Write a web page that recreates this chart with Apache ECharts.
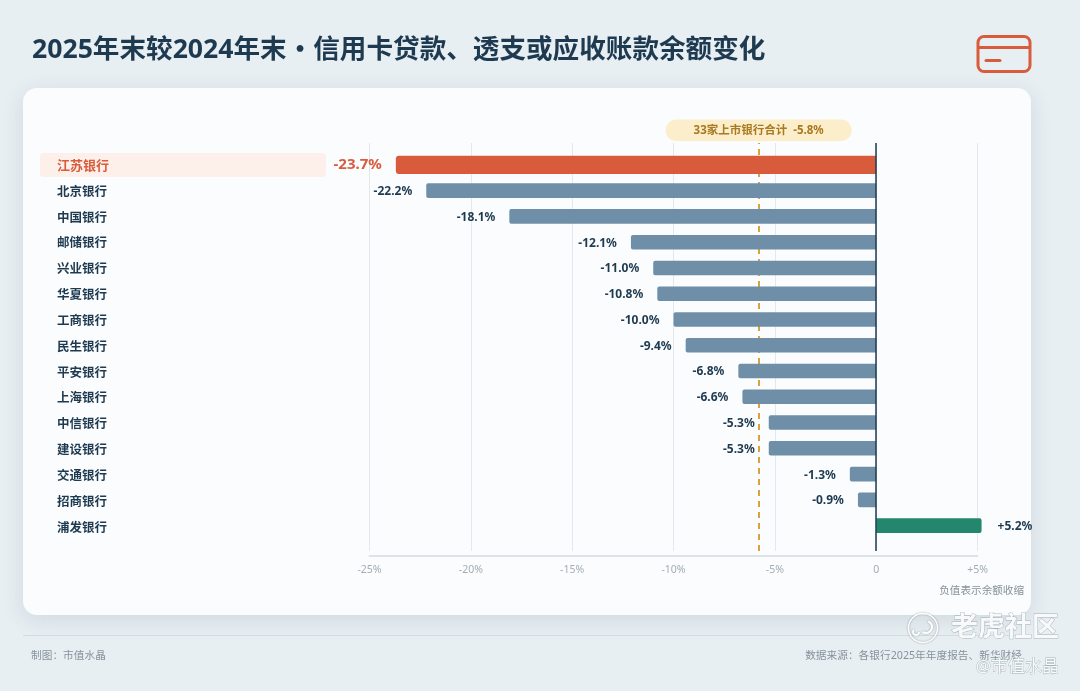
<!DOCTYPE html>
<html><head><meta charset="utf-8">
<style>html,body{margin:0;padding:0;background:#e8eff3}#c{width:1080px;height:691px}</style>
<script src="https://cdn.jsdelivr.net/npm/echarts@6/dist/echarts.min.js"></script>
</head><body><div id="c"></div>
<script>
const FONT='"Noto Sans","Noto Sans CJK SC",sans-serif';
const banks=['江苏银行','北京银行','中国银行','邮储银行','兴业银行','华夏银行','工商银行','民生银行','平安银行','上海银行','中信银行','建设银行','交通银行','招商银行','浦发银行'];
const changes=[-23.7,-22.2,-18.1,-12.1,-11.0,-10.8,-10.0,-9.4,-6.8,-6.6,-5.3,-5.3,-1.3,-0.9,5.2];
const highlightBank='江苏银行';
const totalChange=-5.8;
const totalLabel='33家上市银行合计';
const RED='#d85c3c',BLUE='#6f8fa8',GREEN='#25866e',DARK='#1e3a50';
const fmt=v=>(v>0?'+':'')+v.toFixed(1)+'%';
const tickFmt=v=>v===0?'0':(v>0?'+':'')+v+'%';
const xBase={type:'value',min:-25,max:5,interval:5};
const chart=echarts.init(document.getElementById('c'),null,{renderer:'canvas'});
const normal=changes.map((v,i)=>banks[i]===highlightBank?'-':{
  value:v,
  itemStyle:{color:v>0?GREEN:BLUE,borderRadius:v>0?[0,2,2,0]:[2,0,0,2]},
  label:{position:v>0?'right':'left',distance:v>0?16:14}
});
const hi=changes.map((v,i)=>banks[i]===highlightBank?v:'-');
const WM={stroke:'rgba(120,135,145,0.6)',lineWidth:0.8};
const T=(x,y,text,o)=>({type:'text',x,y,z:o.z||20,silent:true,style:Object.assign({text,fontFamily:FONT,textVerticalAlign:'middle'},o)});
chart.setOption({
  animation:false,
  backgroundColor:'#e8eff3',
  textStyle:{fontFamily:FONT},
  title:{text:'2025年末较2024年末・信用卡贷款、透支或应收账款余额变化',left:27,top:32,
    textStyle:{fontFamily:FONT,fontSize:26.6,fontWeight:700,color:DARK}},
  grid:[
    {left:369.5,top:143,width:608,height:408},
    {left:369.5,top:152,width:608,height:386.5},
    {left:369.5,top:143,width:608,height:413},
    {left:369.5,top:153.5,width:608,height:387.5}
  ],
  xAxis:[
    Object.assign({},xBase,{gridIndex:0,axisLine:{show:false},axisTick:{show:false},axisLabel:{show:false},
      splitLine:{show:true,lineStyle:{color:'#e3e8ec',width:1}}}),
    Object.assign({},xBase,{gridIndex:1,show:false}),
    Object.assign({},xBase,{gridIndex:1,show:false}),
    Object.assign({},xBase,{gridIndex:2,
      axisLine:{show:true,onZero:false,lineStyle:{color:'#dde3e7',width:2}},axisTick:{show:false},splitLine:{show:false},
      axisLabel:{formatter:tickFmt,color:'#a3adb5',fontSize:10.5,margin:9,fontFamily:FONT}}),
    Object.assign({},xBase,{gridIndex:3,show:false})
  ],
  yAxis:[
    {type:'value',gridIndex:0,min:0,max:1,show:false},
    {type:'category',gridIndex:1,inverse:true,show:false,data:banks},
    {type:'category',gridIndex:1,inverse:true,show:false,data:banks},
    {type:'value',gridIndex:2,min:0,max:1,show:false},
    {type:'category',gridIndex:3,inverse:true,data:banks.map(b=>b===highlightBank?{value:b,textStyle:{color:RED,fontSize:13,align:'left'}}:b),
      axisLine:{show:false},axisTick:{show:false},splitLine:{show:false},
      axisLabel:{align:'left',margin:312.5,color:DARK,fontSize:12.5,fontWeight:700,fontFamily:FONT,interval:0}}
  ],
  series:[
    {type:'line',name:'合计',xAxisIndex:0,yAxisIndex:0,data:[],z:1,symbol:'none',silent:true,
      markLine:{silent:true,symbol:'none',z:1,animation:false,
        lineStyle:{color:'#d9a23c',type:[6,5],width:2},
        label:{show:true,position:'end',distance:2,formatter:totalLabel+'  '+totalChange+'%',
          backgroundColor:'#fdeecb',borderRadius:11,padding:[5,28,5,28],
          color:'#a87a22',fontSize:11.5,fontWeight:700,fontFamily:FONT},
        data:[{xAxis:totalChange}]}},
    {type:'bar',name:'余额变化',xAxisIndex:1,yAxisIndex:1,barWidth:14.6,z:3,silent:true,clip:false,data:normal,
      label:{show:true,distance:14,offset:[0,1],formatter:p=>fmt(p.value),color:DARK,fontSize:12,fontWeight:700,fontFamily:FONT}},
    {type:'bar',name:'突出',xAxisIndex:2,yAxisIndex:2,barWidth:18.4,z:3,silent:true,clip:false,data:hi,
      itemStyle:{color:RED,borderRadius:[3,0,0,3]},
      label:{show:true,position:'left',distance:14,formatter:p=>fmt(p.value),color:RED,fontSize:15,fontWeight:700,fontFamily:FONT}},
    {type:'line',name:'零线',xAxisIndex:0,yAxisIndex:0,data:[],z:6,symbol:'none',silent:true,
      markLine:{silent:true,symbol:'none',z:6,animation:false,label:{show:false},
        lineStyle:{color:DARK,type:'solid',width:1.5},data:[{xAxis:0}]}},
    {type:'line',name:'轴',xAxisIndex:3,yAxisIndex:3,data:[],symbol:'none',silent:true},
    {type:'line',name:'标签',xAxisIndex:4,yAxisIndex:4,data:[],symbol:'none',silent:true}
  ],
  graphic:{elements:[
    {type:'rect',z:-10,silent:true,shape:{x:23,y:88,width:1008,height:527,r:14},
      style:{fill:'#fafcfd',shadowBlur:22,shadowColor:'rgba(30,58,80,0.12)',shadowOffsetY:5}},
    {type:'rect',z:-9,silent:true,shape:{x:40,y:153,width:286,height:24,r:4},style:{fill:'#fdf0eb'}},
    {type:'rect',z:20,silent:true,shape:{x:978,y:36.5,width:52,height:35,r:6},style:{fill:'none',stroke:RED,lineWidth:3}},
    {type:'line',z:20,silent:true,shape:{x1:978,y1:47.5,x2:1030,y2:47.5},style:{stroke:RED,lineWidth:3}},
    {type:'line',z:20,silent:true,shape:{x1:986,y1:60.5,x2:1000,y2:60.5},style:{stroke:RED,lineWidth:3,lineCap:'round'}},
    {type:'line',z:-9,silent:true,shape:{x1:23,y1:635.5,x2:1031,y2:635.5},style:{stroke:'#d3dce1',lineWidth:1}},
    T(1024,591,'负值表示余额收缩',{fill:'#86929b',fontSize:10.6,textAlign:'right'}),
    T(31,656,'制图：市值水晶',{fill:'#86929b',fontSize:10.7}),
    T(1022,656,'数据来源：各银行2025年年度报告、新华财经',{fill:'#86929b',fontSize:10.7,textAlign:'right'}),
    {type:'circle',z:30,silent:true,shape:{cx:923,cy:628,r:14.5},style:{fill:'none',stroke:'#fbfcfd',lineWidth:1.6,shadowBlur:2,shadowColor:'rgba(0,0,0,0.35)'}},
    {type:'arc',z:30,silent:true,shape:{cx:926,cy:627,r:6,startAngle:-1.2,endAngle:2.2},style:{fill:'none',stroke:'#fbfcfd',lineWidth:2.4,shadowBlur:2,shadowColor:'rgba(0,0,0,0.35)'}},
    {type:'arc',z:30,silent:true,shape:{cx:916,cy:632,r:3,startAngle:0,endAngle:4},style:{fill:'none',stroke:'#fbfcfd',lineWidth:2,shadowBlur:2,shadowColor:'rgba(0,0,0,0.35)'}},
    T(1059,628,'老虎社区',Object.assign({fill:'#f7f9fa',fontSize:27,textAlign:'right',z:30,fontWeight:700},WM)),
    T(1059,667,'@市值水晶',Object.assign({fill:'#f7f9fa',fontSize:17,textAlign:'right',z:30},WM))
  ]}
});
</script></body></html>
